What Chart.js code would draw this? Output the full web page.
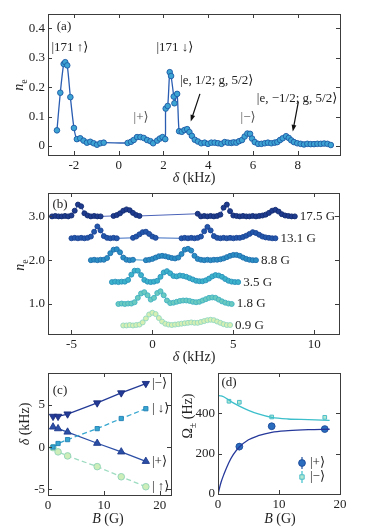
<!DOCTYPE html>
<html>
<head>
<meta charset="utf-8">
<script src="https://cdn.jsdelivr.net/npm/chart.js@4.4.1/dist/chart.umd.min.js"></script>
<style>
  body { margin: 0; width: 374px; height: 527px; position: relative; overflow: hidden; background: #fff;
         font-family: 'Liberation Serif', 'DejaVu Serif', serif; color: #222; }
  canvas { position: absolute; left: 0; top: 0; }
  .lab { position: absolute; font-size: 14px; white-space: nowrap; transform: translate(-50%, -50%); }
  .rot { transform: translate(-50%, -50%) rotate(-90deg); }
  sub { font-size: 10px; }
</style>
</head>
<body>
<canvas id="pa" width="374" height="527"></canvas>
<canvas id="pb" width="374" height="527"></canvas>
<canvas id="pc" width="374" height="527"></canvas>
<canvas id="pd" width="374" height="527"></canvas>

<div class="lab" style="left:194px;top:178px"><i>δ</i> (kHz)</div>
<div class="lab rot" style="left:20px;top:85px"><i>n</i><sub>e</sub></div>
<div class="lab" style="left:194px;top:357px"><i>δ</i> (kHz)</div>
<div class="lab rot" style="left:21px;top:265px"><i>n</i><sub>e</sub></div>
<div class="lab" style="left:108px;top:519px"><i>B</i> (G)</div>
<div class="lab rot" style="left:25px;top:424px"><i>δ</i> (kHz)</div>
<div class="lab" style="left:280px;top:519px"><i>B</i> (G)</div>
<div class="lab rot" style="left:189px;top:416px">Ω<sub>±</sub> (Hz)</div>

<script>
// ---- (a) spectrum at one field ----
const aDelta = [-2.76, -2.61, -2.46, -2.39, -2.30, -2.16, -2.00, -1.87, -1.72, -1.57, -1.42, -1.27, -1.12, -0.97, -0.82, -0.67,
  0.40, 0.55, 0.67, 0.82, 0.97, 1.12, 1.27, 1.42, 1.54, 1.72, 1.84, 1.96, 2.08,
  2.10, 2.19, 2.28, 2.34, 2.46, 2.49, 2.61, 2.70, 2.82, 2.94, 3.06, 3.16, 3.27, 3.40, 3.54,
  3.69, 3.84, 3.99, 4.14, 4.29, 4.44, 4.59, 4.74, 4.88, 5.03, 5.14, 5.26, 5.38, 5.51, 5.63, 5.75, 5.87, 5.96, 6.08,
  6.23, 6.38, 6.53, 6.67, 6.82, 6.97, 7.09, 7.21, 7.33, 7.48, 7.60, 7.71, 7.83, 7.98,
  8.13, 8.28, 8.43, 8.58, 8.73, 8.88, 9.03, 9.18, 9.33, 9.48];
const aNe = [0.053, 0.181, 0.279, 0.285, 0.274, 0.166, 0.061, 0.023, 0.026, 0.018, 0.011, 0.014, 0.009, 0.004, 0.009, 0.011,
  0.010, 0.014, 0.020, 0.030, 0.030, 0.027, 0.020, 0.016, 0.009, 0.018, 0.025, 0.030, 0.023,
  0.127, 0.136, 0.251, 0.238, 0.168, 0.145, 0.177, 0.050, 0.048, 0.054, 0.057, 0.047, 0.034, 0.021, 0.015,
  0.009, 0.011, 0.007, 0.011, 0.011, 0.009, 0.007, 0.013, 0.011, 0.010, 0.012, 0.011, 0.016, 0.020, 0.032, 0.042, 0.041, 0.025, 0.013,
  0.007, 0.007, 0.009, 0.011, 0.009, 0.011, 0.013, 0.020, 0.026, 0.033, 0.027, 0.019, 0.013, 0.009,
  0.007, 0.005, 0.007, 0.006, 0.006, 0.007, 0.007, 0.008, 0.007, 0.003];
const aXTicks = [-2, 0, 2, 4, 6, 8];
const aYTicks = [0, 0.1, 0.2, 0.3, 0.4];

// ---- (b) spectra vs field, offset vertically ----
const bFields = ['17.5 G', '13.1 G', '8.8 G', '3.5 G', '1.8 G', '0.9 G'];
const bOffsets = [3.0, 2.5, 2.0, 1.5, 1.0, 0.5];
const d175 = [-6.2, -6.0, -5.8, -5.6, -5.4, -5.2, -5.0, -4.8, -4.6, -4.4, -4.2, -4.0, -3.8, -3.6, -3.4, -3.2,
  -2.4, -2.2, -2.0, -1.8, -1.6, -1.4, -1.2, -1.0, -0.8,
  2.8, 3.0, 3.2, 3.4, 3.6, 3.8, 4.0, 4.2, 4.4, 4.6, 4.8, 5.0, 5.2, 5.4, 5.6, 5.8, 6.0, 6.2, 6.4, 6.6,
  6.8, 7.0, 7.2, 7.4, 7.6, 7.8, 8.0, 8.2, 8.4, 8.6, 8.8];
const n175 = [0.00, 0.01, 0.00, 0.00, 0.01, 0.00, 0.02, 0.13, 0.27, 0.23, 0.07, 0.02, 0.00, 0.01, 0.00, 0.00,
  0.01, 0.03, 0.07, 0.13, 0.16, 0.14, 0.08, 0.03, 0.01,
  0.06, 0.00, 0.01, 0.00, 0.01, 0.00, 0.01, 0.04, 0.20, 0.27, 0.12, 0.02, 0.01, 0.00, 0.01, 0.00, 0.00, 0.01, 0.00, 0.01,
  0.02, 0.04, 0.08, 0.13, 0.15, 0.11, 0.05, 0.02, 0.01, 0.00, 0.00];
const d131 = [-5.0, -4.8, -4.6, -4.4, -4.2, -4.0, -3.8, -3.6, -3.4, -3.2, -3.0, -2.8, -2.6, -2.4, -2.2,
  -1.2, -1.0, -0.8, -0.6, -0.4, -0.2, 0.0, 0.2,
  1.8, 2.0, 2.2, 2.4, 2.6, 2.8, 3.0, 3.2, 3.4, 3.6, 3.8, 4.0, 4.2, 4.4, 4.6,
  4.8, 5.0, 5.2, 5.4, 5.6, 5.8, 6.0, 6.2, 6.4, 6.6, 6.8, 7.0, 7.2, 7.4, 7.6];
const n131 = [0.00, 0.01, 0.00, 0.01, 0.00, 0.01, 0.04, 0.15, 0.27, 0.18, 0.05, 0.01, 0.00, 0.01, 0.00,
  0.01, 0.04, 0.09, 0.14, 0.15, 0.10, 0.04, 0.01,
  0.00, 0.01, 0.00, 0.01, 0.00, 0.01, 0.04, 0.16, 0.26, 0.18, 0.05, 0.01, 0.00, 0.01, 0.00,
  0.01, 0.00, 0.01, 0.01, 0.03, 0.06, 0.10, 0.14, 0.12, 0.08, 0.04, 0.02, 0.01, 0.00, 0.00];
const d88 = [-3.8, -3.6, -3.4, -3.2, -3.0, -2.8, -2.6, -2.4, -2.2, -2.0, -1.8, -1.6, -1.4, -1.2,
  -0.4, -0.2, 0.0, 0.2, 0.4, 0.6, 0.8, 1.0, 1.2, 1.4, 1.6, 1.8, 2.0, 2.2, 2.4, 2.6, 2.8, 3.0,
  3.2, 3.4, 3.6, 3.8, 4.0, 4.2, 4.4, 4.6, 4.8, 5.0, 5.2, 5.4, 5.6, 5.8, 6.0, 6.2, 6.4];
const n88 = [0.00, 0.01, 0.00, 0.01, 0.01, 0.05, 0.16, 0.24, 0.25, 0.18, 0.06, 0.01, 0.00, 0.01,
  0.00, 0.01, 0.03, 0.06, 0.09, 0.10, 0.09, 0.07, 0.05, 0.04, 0.06, 0.14, 0.24, 0.26, 0.22, 0.10, 0.03, 0.01,
  0.00, 0.01, 0.00, 0.01, 0.01, 0.02, 0.04, 0.07, 0.10, 0.12, 0.12, 0.10, 0.06, 0.03, 0.01, 0.00, 0.00];
const d35 = [-2.5, -2.3, -2.1, -1.9, -1.7, -1.5, -1.3, -1.1, -0.9, -0.7, -0.5, -0.3, -0.1,
  0.1, 0.3, 0.5, 0.7, 0.9, 1.1, 1.3, 1.5, 1.7, 1.9, 2.1, 2.3, 2.5, 2.7,
  2.9, 3.1, 3.3, 3.5, 3.7, 3.9, 4.1, 4.3, 4.5, 4.7, 4.9, 5.1, 5.3];
const n35 = [0.00, 0.01, 0.00, 0.01, 0.01, 0.05, 0.17, 0.26, 0.26, 0.16, 0.05, 0.01, 0.00,
  0.01, 0.03, 0.12, 0.22, 0.25, 0.20, 0.14, 0.13, 0.15, 0.14, 0.12, 0.09, 0.06, 0.03,
  0.02, 0.02, 0.04, 0.08, 0.13, 0.16, 0.15, 0.12, 0.07, 0.03, 0.01, 0.00, 0.00];
const d18 = [-2.1, -1.9, -1.7, -1.5, -1.3, -1.1, -0.9, -0.7, -0.5, -0.3, -0.1,
  0.1, 0.3, 0.5, 0.7, 0.9, 1.1, 1.3, 1.5, 1.7, 1.9, 2.1, 2.3, 2.5, 2.7, 2.9,
  3.1, 3.3, 3.5, 3.7, 3.9, 4.1, 4.3, 4.5, 4.7, 4.9];
const n18 = [0.00, 0.01, 0.00, 0.01, 0.01, 0.04, 0.14, 0.24, 0.27, 0.20, 0.10,
  0.14, 0.25, 0.29, 0.20, 0.08, 0.02, 0.03, 0.05, 0.07, 0.08, 0.08, 0.07, 0.05, 0.04, 0.05,
  0.08, 0.11, 0.14, 0.15, 0.14, 0.10, 0.06, 0.03, 0.01, 0.00];
const d09 = [-1.8, -1.6, -1.4, -1.2, -1.0, -0.8, -0.6, -0.4, -0.2, 0.0,
  0.2, 0.4, 0.6, 0.8, 1.0, 1.2, 1.4, 1.6, 1.8, 2.0, 2.2, 2.4,
  2.6, 2.8, 3.0, 3.2, 3.4, 3.6, 3.8, 4.0, 4.2, 4.4, 4.6, 4.8];
const n09 = [0.01, 0.01, 0.02, 0.01, 0.02, 0.03, 0.08, 0.17, 0.26, 0.30,
  0.27, 0.18, 0.10, 0.05, 0.03, 0.02, 0.03, 0.04, 0.05, 0.06, 0.07, 0.08,
  0.07, 0.07, 0.09, 0.11, 0.13, 0.14, 0.13, 0.10, 0.07, 0.04, 0.02, 0.02];
const bXTicks = [-5, 0, 5, 10];
const bYTicks = [1, 2, 3];

// ---- (c) line positions vs field ----
const cField = [0.9, 1.8, 3.5, 8.8, 13.1, 17.5];
const cMinus = [3.65, 3.65, 3.93, 5.24, 6.43, 7.54];
const cDown = [0.02, 0.44, 0.90, 2.20, 3.40, 4.56];
const cPlus = [2.40, 2.20, 1.80, 0.47, -0.55, -1.67];
const cUp = [-0.05, -0.55, -1.03, -2.30, -3.50, -4.68];
const cXTicks = [0, 10, 20];
const cYTicks = [-5, 0, 5];

// ---- (d) Rabi frequencies ----
const dFieldPlus = [3.5, 8.8, 17.5];
const dOmegaPlus = [235, 336, 322];
const dErrPlus = [18, 8, 8];
const dFieldMinus = [1.8, 3.5, 8.8, 17.5];
const dOmegaMinus = [460, 455, 382, 380];
const dErrMinus = [10, 10, 8, 8];
const dCurveB = [0, 0.5, 1, 1.75, 2.5, 3.5, 5, 6.6, 8.8, 11.5, 14.8, 18.3];
const dCurvePlus = [0, 58, 100, 154, 195, 233, 269, 289, 306, 314, 319, 321];
const dCurveMinus = [488, 486, 481, 466, 452, 436, 415, 397, 380, 372, 369, 365];
const dXTicks = [0, 10, 20];
const dYTicks = [0, 200, 400];

const SERIF = "'Liberation Serif', 'DejaVu Serif', serif";
const W = 374, H = 527;

const pts = (xs, ys, off = 0) => xs.map((v, i) => ({ x: v, y: ys[i] + off }));

// frame with inward ticks on all sides, like the original
const frame = {
  id: 'frame',
  afterDraw(chart) {
    const { ctx, chartArea: a, scales: { x, y } } = chart;
    ctx.save();
    ctx.strokeStyle = '#3c3c3c';
    ctx.lineWidth = 1;
    ctx.beginPath();
    x.ticks.forEach(t => {
      const p = Math.round(x.getPixelForValue(t.value)) + 0.5;
      ctx.moveTo(p, a.bottom); ctx.lineTo(p, a.bottom - 4);
      ctx.moveTo(p, a.top); ctx.lineTo(p, a.top + 4);
    });
    y.ticks.forEach(t => {
      const p = Math.round(y.getPixelForValue(t.value)) + 0.5;
      ctx.moveTo(a.left, p); ctx.lineTo(a.left + 4, p);
      ctx.moveTo(a.right, p); ctx.lineTo(a.right - 4, p);
    });
    ctx.stroke();
    ctx.strokeRect(Math.round(a.left) + 0.5, Math.round(a.top) + 0.5,
      Math.round(a.right - a.left), Math.round(a.bottom - a.top));
    ctx.restore();
  }
};

function txt(ctx, s, x, y, size, align = 'center', color = '#222') {
  ctx.save();
  ctx.font = size + 'px ' + SERIF;
  ctx.fillStyle = color;
  ctx.textAlign = align;
  ctx.textBaseline = 'middle';
  ctx.fillText(s, x, y);
  ctx.restore();
}

function arrow(ctx, x1, y1, x2, y2) {
  const ang = Math.atan2(y2 - y1, x2 - x1);
  ctx.save();
  ctx.strokeStyle = '#111';
  ctx.fillStyle = '#111';
  ctx.lineWidth = 1.2;
  ctx.beginPath();
  ctx.moveTo(x1, y1);
  ctx.lineTo(x2 - 5 * Math.cos(ang), y2 - 5 * Math.sin(ang));
  ctx.stroke();
  ctx.beginPath();
  ctx.moveTo(x2, y2);
  ctx.lineTo(x2 - 7 * Math.cos(ang - 0.35), y2 - 7 * Math.sin(ang - 0.35));
  ctx.lineTo(x2 - 7 * Math.cos(ang + 0.35), y2 - 7 * Math.sin(ang + 0.35));
  ctx.closePath();
  ctx.fill();
  ctx.restore();
}

// place a chart's plot area at fixed page pixels
function axes(box, xr, yr, xTicks, yTicks, xFmt, yFmt) {
  const tickFont = { family: SERIF, size: 13 };
  return {
    layout: { padding: { left: 0, top: box.top, right: W - box.right, bottom: H - box.bottom - 20 } },
    scales: {
      x: {
        type: 'linear', min: xr[0], max: xr[1],
        afterFit: s => { s.height = 20; },
        afterBuildTicks: s => { s.ticks = xTicks.map(v => ({ value: v })); },
        grid: { display: false, drawTicks: false }, border: { display: false },
        ticks: { font: tickFont, color: '#222', padding: 3, maxRotation: 0, autoSkip: false, callback: xFmt || (v => String(v)) }
      },
      y: {
        type: 'linear', min: yr[0], max: yr[1],
        afterFit: s => { s.width = box.left; },
        afterBuildTicks: s => { s.ticks = yTicks.map(v => ({ value: v })); },
        grid: { display: false, drawTicks: false }, border: { display: false },
        ticks: { font: tickFont, color: '#222', padding: 3, autoSkip: false, callback: yFmt || (v => String(v)) }
      }
    }
  };
}

const common = {
  responsive: false,
  animation: false,
  devicePixelRatio: 1,
  events: [],
  plugins: { legend: { display: false }, tooltip: { enabled: false } }
};

// ---------------- (a) ----------------
new Chart(document.getElementById('pa'), {
  type: 'scatter',
  data: {
    datasets: [{
      data: pts(aDelta, aNe),
      showLine: true,
      tension: 0.25,
      borderColor: '#2a5db2',
      borderWidth: 1.3,
      pointRadius: 2.8,
      pointBackgroundColor: '#3da3d3',
      pointBorderColor: '#1d5aa6',
      pointBorderWidth: 0.9
    }]
  },
  options: Object.assign({}, common, axes({ left: 48, right: 340, top: 14, bottom: 155 },
    [-3.16, 9.89], [-0.031, 0.449], aXTicks, aYTicks, null, v => (v === 0 ? '0' : v.toFixed(1)))),
  plugins: [frame, {
    id: 'notesA',
    afterDraw(chart) {
      const { ctx, scales: { x, y }, chartArea: a } = chart;
      txt(ctx, '(a)', a.left + 16, a.top + 13, 13);
      txt(ctx, '|171 ↑⟩', x.getPixelForValue(-2.18), y.getPixelForValue(0.336), 13);
      txt(ctx, '|171 ↓⟩', x.getPixelForValue(2.51), y.getPixelForValue(0.336), 13);
      txt(ctx, '|+⟩', x.getPixelForValue(1.0), y.getPixelForValue(0.098), 13, 'center', '#555');
      txt(ctx, '|−⟩', x.getPixelForValue(5.78), y.getPixelForValue(0.098), 13, 'center', '#555');
      txt(ctx, '|e, 1/2; g, 5/2⟩', x.getPixelForValue(4.38), y.getPixelForValue(0.224), 13);
      txt(ctx, '|e, −1/2; g, 5/2⟩', x.getPixelForValue(7.97), y.getPixelForValue(0.160), 13);
      arrow(ctx, x.getPixelForValue(3.63), y.getPixelForValue(0.177), x.getPixelForValue(3.22), y.getPixelForValue(0.083));
      arrow(ctx, x.getPixelForValue(8.03), y.getPixelForValue(0.151), x.getPixelForValue(7.78), y.getPixelForValue(0.049));
    }
  }]
});

// ---------------- (b) ----------------
const bTraces = [[d175, n175], [d131, n131], [d88, n88], [d35, n35], [d18, n18], [d09, n09]];
const bFill = ['#1e3b8e', '#2357ab', '#2b8fc4', '#3cb2cb', '#6ccbc0', '#d6efb3'];
const bEdge = ['#132c72', '#1b4394', '#1f6eae', '#2a92bb', '#41b1c2', '#93d8c2'];
const bLine = ['#4b63b8', '#3a6cc0', '#3a92c8', '#45acc8', '#5cc0c0', '#9fdcc0'];

new Chart(document.getElementById('pb'), {
  type: 'scatter',
  data: {
    datasets: bTraces.map((t, k) => ({
      data: pts(t[0], t[1], bOffsets[k]),
      showLine: true,
      tension: 0,
      borderColor: bLine[k],
      borderWidth: 1,
      pointRadius: 2.5,
      pointBackgroundColor: bFill[k],
      pointBorderColor: bEdge[k],
      pointBorderWidth: 0.9
    }))
  },
  options: Object.assign({}, common, axes({ left: 48, right: 339, top: 193, bottom: 334 },
    [-6.45, 11.53], [0.315, 3.534], bXTicks, bYTicks, null, v => v.toFixed(1))),
  plugins: [frame, {
    id: 'notesB',
    afterDraw(chart) {
      const { ctx, scales: { x, y }, chartArea: a } = chart;
      txt(ctx, '(b)', a.left + 12, a.top + 12, 13);
      bTraces.forEach((t, k) => {
        const last = t[0][t[0].length - 1];
        txt(ctx, bFields[k], x.getPixelForValue(last) + 5, y.getPixelForValue(bOffsets[k]), 13, 'left');
      });
    }
  }]
});

// ---------------- (c) ----------------
const cSeries = [
  { name: '|−⟩', v: cMinus, style: 'triangle', rot: 180, r: 4.2, fill: '#233a96', edge: '#1a2c7c', line: '#233a96', dash: [] },
  { name: '| ↓⟩', v: cDown, style: 'rect', rot: 0, r: 3, fill: '#38a7cf', edge: '#1f7fb5', line: '#38a7cf', dash: [5, 3] },
  { name: '|+⟩', v: cPlus, style: 'triangle', rot: 0, r: 4.2, fill: '#2c4fa6', edge: '#1e3a8c', line: '#2c4fa6', dash: [] },
  { name: '| ↑⟩', v: cUp, style: 'circle', rot: 0, r: 3.3, fill: '#cdeeb8', edge: '#8ed3b8', line: '#9ddcc0', dash: [5, 3] }
];

new Chart(document.getElementById('pc'), {
  type: 'scatter',
  data: {
    datasets: cSeries.map(s => ({
      data: pts(cField, s.v),
      showLine: true,
      borderColor: s.line,
      borderWidth: 1.3,
      borderDash: s.dash,
      pointStyle: s.style,
      rotation: s.rot,
      pointRadius: s.r,
      pointBackgroundColor: s.fill,
      pointBorderColor: s.edge,
      pointBorderWidth: 0.9
    }))
  },
  options: Object.assign({}, common, axes({ left: 48, right: 171, top: 373, bottom: 495 },
    [0, 22], [-5.66, 8.79], cXTicks, cYTicks)),
  plugins: [frame, {
    id: 'notesC',
    afterDraw(chart) {
      const { ctx, scales: { x, y }, chartArea: a } = chart;
      txt(ctx, '(c)', a.left + 12, a.top + 18, 13);
      cSeries.forEach(s => {
        txt(ctx, s.name, x.getPixelForValue(18.6), y.getPixelForValue(s.v[s.v.length - 1]), 13, 'left');
      });
    }
  }]
});

// ---------------- (d) ----------------
const errBars = {
  id: 'errBars',
  beforeDatasetsDraw(chart) {
    const { ctx, scales: { x, y } } = chart;
    const sets = [[dFieldPlus, dOmegaPlus, dErrPlus, '#1f4f9c'], [dFieldMinus, dOmegaMinus, dErrMinus, '#3cbfcb']];
    ctx.save();
    ctx.lineWidth = 1.2;
    sets.forEach(([bx, om, er, c]) => {
      ctx.strokeStyle = c;
      ctx.beginPath();
      bx.forEach((b, i) => {
        const px = x.getPixelForValue(b);
        ctx.moveTo(px, y.getPixelForValue(om[i] - er[i]));
        ctx.lineTo(px, y.getPixelForValue(om[i] + er[i]));
      });
      ctx.stroke();
    });
    ctx.restore();
  }
};

new Chart(document.getElementById('pd'), {
  type: 'scatter',
  data: {
    datasets: [
      { data: pts(dCurveB, dCurvePlus), showLine: true, cubicInterpolationMode: 'monotone',
        borderColor: '#26399b', borderWidth: 1.3, pointRadius: 0 },
      { data: pts(dCurveB, dCurveMinus), showLine: true, cubicInterpolationMode: 'monotone',
        borderColor: '#3cbfcb', borderWidth: 1.3, pointRadius: 0 },
      { data: pts(dFieldPlus, dOmegaPlus), pointStyle: 'circle', pointRadius: 3.4,
        pointBackgroundColor: '#2a6cbd', pointBorderColor: '#1c4a98', pointBorderWidth: 0.9 },
      { data: pts(dFieldMinus, dOmegaMinus), pointStyle: 'rect', pointRadius: 2.6,
        pointBackgroundColor: '#b2e8d2', pointBorderColor: '#3fb9c6', pointBorderWidth: 0.9 }
    ]
  },
  options: Object.assign({}, common, axes({ left: 218, right: 340, top: 373, bottom: 494 },
    [0, 20], [0, 600], dXTicks, dYTicks)),
  plugins: [errBars, frame, {
    id: 'notesD',
    afterDraw(chart) {
      const { ctx, chartArea: a } = chart;
      txt(ctx, '(d)', a.left + 11, a.top + 10, 13);
      const lx = a.right - 38;
      // legend entries: marker with error bar, then ket label
      const rows = [
        { y: a.bottom - 31, name: '|+⟩', fill: '#2a6cbd', edge: '#1c4a98', bar: '#1f4f9c', sq: false },
        { y: a.bottom - 17, name: '|−⟩', fill: '#b2e8d2', edge: '#3fb9c6', bar: '#3cbfcb', sq: true }
      ];
      rows.forEach(r => {
        ctx.save();
        ctx.strokeStyle = r.bar; ctx.lineWidth = 1.2;
        ctx.beginPath(); ctx.moveTo(lx, r.y - 6); ctx.lineTo(lx, r.y + 6); ctx.stroke();
        ctx.fillStyle = r.fill; ctx.strokeStyle = r.edge; ctx.lineWidth = 0.9;
        ctx.beginPath();
        if (r.sq) ctx.rect(lx - 2.2, r.y - 2.2, 4.4, 4.4); else ctx.arc(lx, r.y, 3.4, 0, Math.PI * 2);
        ctx.fill(); ctx.stroke();
        ctx.restore();
        txt(ctx, r.name, lx + 8, r.y, 13, 'left');
      });
    }
  }]
});
</script>
</body>
</html>
